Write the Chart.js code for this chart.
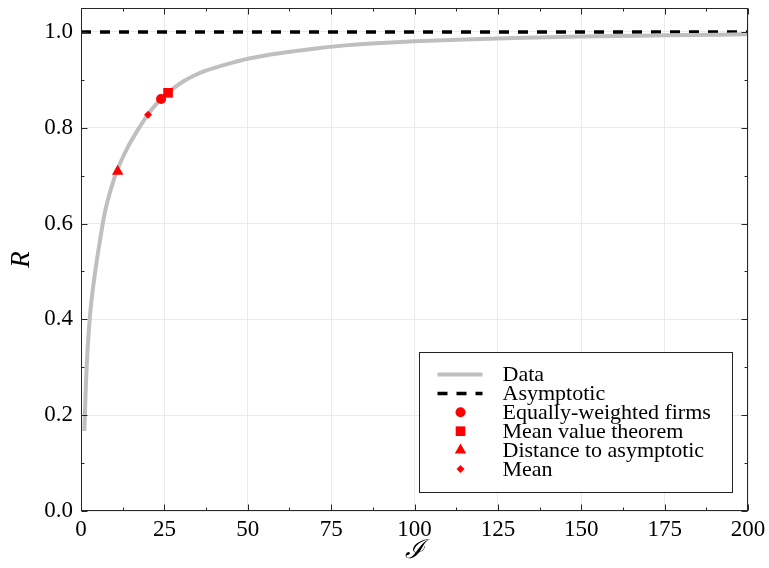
<!DOCTYPE html>
<html>
<head>
<meta charset="utf-8">
<script src="https://cdn.jsdelivr.net/npm/chart.js@4.4.0/dist/chart.umd.min.js"></script>
<style>
  html, body { margin: 0; padding: 0; background: #fff; }
  canvas { display: block; }
</style>
</head>
<body>
<canvas id="chart" width="769" height="568"></canvas>
<script>
// data
const curveX = [1, 1.5, 2, 2.5, 3, 4, 5, 6, 7, 8, 10, 12, 14, 17, 20, 23, 26, 28, 31, 34, 37, 40, 46, 50, 56, 64, 71, 80, 90, 100, 115, 130, 150, 175, 200];
const curveY = [0.167, 0.27, 0.34, 0.39, 0.43, 0.487, 0.535, 0.578, 0.618, 0.648, 0.695, 0.73, 0.759, 0.795, 0.827, 0.853, 0.873, 0.884, 0.898, 0.909, 0.918, 0.925, 0.937, 0.944, 0.952, 0.960, 0.966, 0.9725, 0.977, 0.9805, 0.9845, 0.9875, 0.9905, 0.993, 0.995];
const asymX = [0, 200];
const asymY = [1, 1];
const equalX = [24.0],  equalY = [0.860];
const mvtX   = [26.1],  mvtY   = [0.873];
const distX  = [11.0],  distY  = [0.709];
const meanX  = [20.1],  meanY  = [0.827];
const xTicks = [0, 25, 50, 75, 100, 125, 150, 175, 200];
const yTicks = [0, 0.2, 0.4, 0.6, 0.8, 1.0];

const pts = (xs, ys) => xs.map((x, i) => ({ x: x, y: ys[i] }));
const RED = '#ff0000';
const SERIF = "'Liberation Serif', 'DejaVu Serif', serif";

// frame + inward ticks on all four sides
const framePlugin = {
  id: 'frame',
  afterDraw(chart) {
    const { ctx, chartArea: a, scales } = chart;
    const L = Math.round(a.left) + 0.5, R = Math.round(a.right) - 0.5;
    const T = Math.round(a.top) + 0.5, B = Math.round(a.bottom) - 0.5;
    ctx.save();
    ctx.strokeStyle = '#262626';
    ctx.lineWidth = 1;
    ctx.strokeRect(L, T, R - L, B - T);
    ctx.beginPath();
    const xt = (v, len) => {
      const px = Math.round(scales.x.getPixelForValue(v)) + 0.5;
      ctx.moveTo(px, B); ctx.lineTo(px, B - len);
      ctx.moveTo(px, T); ctx.lineTo(px, T + len);
    };
    const yt = (v, len) => {
      const py = Math.round(scales.y.getPixelForValue(v)) + 0.5;
      ctx.moveTo(L, py); ctx.lineTo(L + len, py);
      ctx.moveTo(R, py); ctx.lineTo(R - len, py);
    };
    xTicks.forEach((v, i) => {
      xt(v, 6);
      if (i < xTicks.length - 1) xt((v + xTicks[i + 1]) / 2, 3);
    });
    yTicks.forEach((v, i) => {
      yt(v, 6);
      if (i < yTicks.length - 1) yt((v + yTicks[i + 1]) / 2, 3);
    });
    ctx.stroke();
    ctx.restore();
  }
};

function marker(ctx, style, r, x, y) {
  ctx.beginPath();
  if (style === 'circle') {
    ctx.arc(x, y, r, 0, Math.PI * 2);
  } else if (style === 'rect') {
    const s = Math.SQRT1_2 * r;
    ctx.rect(x - s, y - s, 2 * s, 2 * s);
  } else if (style === 'triangle') {
    ctx.moveTo(x, y - r);
    ctx.lineTo(x + r * Math.sqrt(3) / 2, y + r / 2);
    ctx.lineTo(x - r * Math.sqrt(3) / 2, y + r / 2);
    ctx.closePath();
  } else if (style === 'rectRot') {
    ctx.moveTo(x, y - r); ctx.lineTo(x + r, y);
    ctx.lineTo(x, y + r); ctx.lineTo(x - r, y);
    ctx.closePath();
  }
  ctx.fill();
}

// legend box in lower right of plot
const legendPlugin = {
  id: 'boxLegend',
  afterDraw(chart) {
    const { ctx, chartArea: a } = chart;
    const w = 313, h = 140;
    const bx = Math.round(a.right - 16 - w) + 0.5;
    const by = Math.round(a.bottom - 19 - h) + 0.5;
    ctx.save();
    ctx.fillStyle = '#fff';
    ctx.fillRect(bx, by, w, h);
    ctx.strokeStyle = '#222';
    ctx.lineWidth = 1;
    ctx.strokeRect(bx, by, w, h);
    ctx.font = '22px ' + SERIF;
    ctx.textBaseline = 'middle';
    chart.data.datasets.forEach((ds, i) => {
      const cy = by + 22 + i * 18.9;
      if (ds.showLine) {
        ctx.strokeStyle = ds.borderColor;
        ctx.lineWidth = ds.borderWidth;
        ctx.setLineDash(ds.borderDash || []);
        ctx.beginPath();
        ctx.moveTo(bx + 18, cy); ctx.lineTo(bx + 63, cy);
        ctx.stroke();
        ctx.setLineDash([]);
      } else {
        ctx.fillStyle = ds.backgroundColor;
        marker(ctx, ds.pointStyle, ds.pointRadius, bx + 41, cy);
      }
      ctx.fillStyle = '#000';
      ctx.fillText(ds.label, bx + 83, cy + 1);
    });
    ctx.restore();
  }
};

const markerSet = (label, xs, ys, style, r, order) => ({
  label: label, data: pts(xs, ys), showLine: false,
  pointStyle: style, pointRadius: r, pointHoverRadius: r,
  backgroundColor: RED, borderColor: RED, borderWidth: 0, order: order
});

new Chart(document.getElementById('chart'), {
  type: 'scatter',
  data: {
    datasets: [
      { label: 'Data', data: pts(curveX, curveY), showLine: true, borderColor: '#bfbfbf',
        borderWidth: 4, pointRadius: 0, cubicInterpolationMode: 'monotone', order: 9 },
      { label: 'Asymptotic', data: pts(asymX, asymY), showLine: true, borderColor: '#000',
        borderWidth: 3.5, borderDash: [10, 9], pointRadius: 0, order: 10 },
      markerSet('Equally-weighted firms', equalX, equalY, 'circle', 5, 2),
      markerSet('Mean value theorem', mvtX, mvtY, 'rect', 6.8, 1),
      markerSet('Distance to asymptotic', distX, distY, 'triangle', 6.6, 3),
      markerSet('Mean', meanX, meanY, 'rectRot', 4, 4)
    ]
  },
  options: {
    responsive: false,
    animation: false,
    devicePixelRatio: 1,
    layout: { padding: { left: 0, right: 21, top: 8, bottom: 0 } },
    plugins: { legend: { display: false }, tooltip: { enabled: false } },
    scales: {
      x: {
        type: 'linear', min: 0, max: 200,
        afterBuildTicks: s => { s.ticks = xTicks.map(v => ({ value: v })); },
        afterFit: s => { s.height = 57; s.paddingLeft = 0; s.paddingRight = 0; },
        grid: { color: '#ebebeb', drawTicks: false },
        border: { display: false },
        ticks: { color: '#000', padding: 5, font: { family: SERIF, size: 23 } },
        title: { display: true, text: 'ℐ', color: '#000', padding: { top: 0, bottom: 1 },
                 font: { family: SERIF, size: 26, style: 'italic' } }
      },
      y: {
        type: 'linear', min: 0, max: 1.05,
        afterBuildTicks: s => { s.ticks = yTicks.map(v => ({ value: v })); },
        afterFit: s => { s.width = 81; s.paddingTop = 0; s.paddingBottom = 0; },
        grid: { color: '#ebebeb', drawTicks: false },
        border: { display: false },
        ticks: { color: '#000', padding: 8, font: { family: SERIF, size: 23 },
                 callback: v => Number(v).toFixed(1) },
        title: { display: true, text: 'R', color: '#000', padding: { top: 6, bottom: 0 },
                 font: { family: SERIF, size: 27, style: 'italic' } }
      }
    }
  },
  plugins: [framePlugin, legendPlugin]
});
</script>
</body>
</html>
